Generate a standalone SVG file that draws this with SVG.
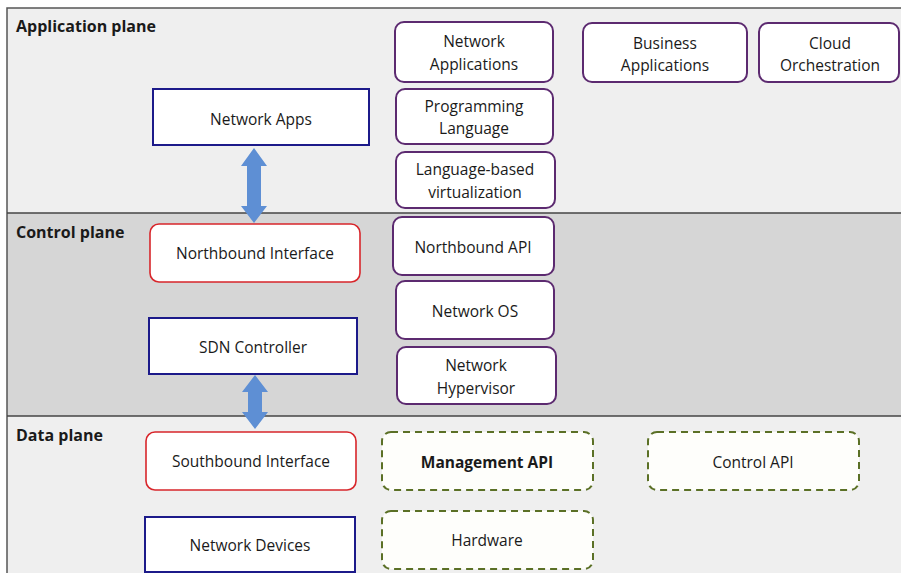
<svg xmlns="http://www.w3.org/2000/svg" width="901" height="573" viewBox="0 0 901 573">
<defs>
<style>
text{font-family:"Open Sans","Liberation Sans",sans-serif;font-size:15.5px;fill:#1a1a1a;text-anchor:middle}
.plane{font-weight:bold;text-anchor:start;font-size:16px}
.blue{fill:#fff;stroke:#1c1a8a;stroke-width:2}
.red{fill:#fff;stroke:#d8262b;stroke-width:1.6}
.purple{fill:#fff;stroke:#5c2a70;stroke-width:2}
.dash{fill:#fefefb;stroke:#5b7026;stroke-width:2;stroke-dasharray:7 5}
.arrow{fill:#5e8fd4}
</style>
</defs>
<rect x="0" y="0" width="901" height="573" fill="#fff"/>
<g id="planes">
<rect x="7" y="8" width="894" height="205" fill="#efefef"/>
<rect x="7" y="213" width="894" height="203" fill="#d6d6d6"/>
<rect x="7" y="416" width="894" height="157" fill="#efefef"/>
<path d="M901 8H7V573" fill="none" stroke="#555" stroke-width="1.5"/>
<line x1="7" y1="213" x2="901" y2="213" stroke="#444" stroke-width="1.5"/>
<line x1="7" y1="416" x2="901" y2="416" stroke="#444" stroke-width="1.5"/>
<text class="plane" x="16" y="32">Application plane</text>
<text class="plane" x="16" y="238">Control plane</text>
<text class="plane" x="16" y="441">Data plane</text>
</g>
<g id="connectors">
<polygon class="arrow" points="254,148 267,166 261,166 261,206 267,206 254,223 241,206 247,206 247,166 241,166"/>
<polygon class="arrow" points="255,375 268,392 262,392 262,412 268,412 255,429 242,412 248,412 248,392 242,392"/>
</g>
<g id="network-apps"><rect class="blue" x="153" y="89" width="216" height="56"/><text x="261" y="125">Network Apps</text></g>
<g id="northbound-interface"><rect class="red" x="150" y="224" width="210" height="58" rx="9"/><text x="255" y="259">Northbound Interface</text></g>
<g id="sdn-controller"><rect class="blue" x="149" y="318" width="208" height="56"/><text x="253" y="353">SDN Controller</text></g>
<g id="southbound-interface"><rect class="red" x="146" y="432" width="210" height="58" rx="9"/><text x="251" y="467">Southbound Interface</text></g>
<g id="network-devices"><rect class="blue" x="145" y="517" width="210" height="55"/><text x="250" y="551">Network Devices</text></g>
<g id="network-applications"><rect class="purple" x="395" y="22" width="158" height="60" rx="9"/><text x="474" y="47">Network</text><text x="474" y="70">Applications</text></g>
<g id="business-applications"><rect class="purple" x="583" y="23" width="164" height="59" rx="9"/><text x="665" y="49">Business</text><text x="665" y="71">Applications</text></g>
<g id="cloud-orchestration"><rect class="purple" x="759" y="23" width="140" height="59" rx="9"/><text x="830" y="49">Cloud</text><text x="830" y="71">Orchestration</text></g>
<g id="programming-language"><rect class="purple" x="396" y="89" width="157" height="55" rx="9"/><text x="474" y="112">Programming</text><text x="474" y="134">Language</text></g>
<g id="language-based-virtualization"><rect class="purple" x="396" y="152" width="159" height="56" rx="9"/><text x="475" y="175">Language-based</text><text x="475" y="198">virtualization</text></g>
<g id="northbound-api"><rect class="purple" x="393" y="217" width="161" height="58" rx="9"/><text x="473" y="253">Northbound API</text></g>
<g id="network-os"><rect class="purple" x="396" y="281" width="158" height="58" rx="9"/><text x="475" y="317">Network OS</text></g>
<g id="network-hypervisor"><rect class="purple" x="397" y="347" width="159" height="57" rx="9"/><text x="476" y="371">Network</text><text x="476" y="394">Hypervisor</text></g>
<g id="management-api"><rect class="dash" x="382" y="432" width="211" height="58" rx="9"/><text x="487" y="468" style="font-weight:bold;font-size:15.5px">Management API</text></g>
<g id="control-api"><rect class="dash" x="648" y="432" width="211" height="58" rx="9"/><text x="753" y="468">Control API</text></g>
<g id="hardware"><rect class="dash" x="382" y="511" width="211" height="58" rx="9"/><text x="487" y="546">Hardware</text></g>
</svg>
